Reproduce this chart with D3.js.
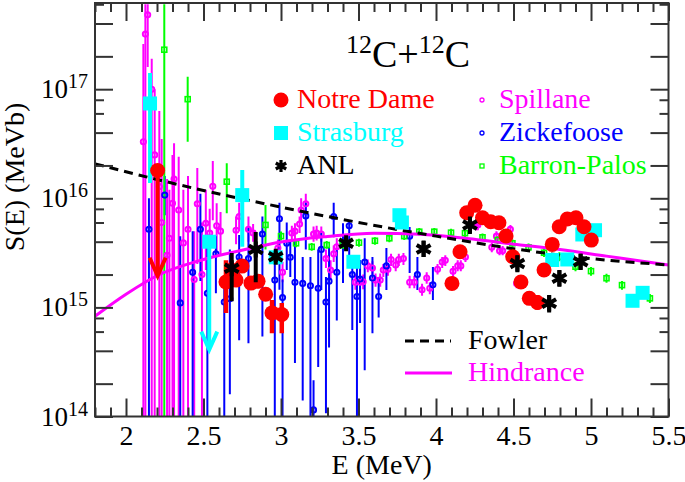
<!DOCTYPE html>
<html><head><meta charset="utf-8">
<script src="https://cdn.jsdelivr.net/npm/d3@7"></script>
<style>
html,body{margin:0;padding:0;background:#fff;}
svg{display:block;}
svg text{font-family:"Liberation Serif","Times New Roman",Times,serif !important;}
</style></head><body>
<svg id="chart" width="685" height="482"></svg>
<script>
// ---------- data: [E (MeV), S (MeV b), error low, error high] ----------
const xTickValues = [2, 2.5, 3, 3.5, 4, 4.5, 5, 5.5];
const yDecadeExponents = [14, 15, 16, 17];

const notreDame = [
  [2.645,1.71e15,8.9e14,2.7e15],[2.68,2.2e15,1.9e15,2.6e15],[2.71,1.78e15,1.55e15,2.05e15],
  [2.748,2.39e15,2.1e15,2.7e15],[2.806,1.67e15,1.45e15,1.9e15],[2.852,1.74e15,1.5e15,2.0e15],
  [2.901,1.32e15,1.15e15,1.5e15],[2.942,8.9e14,5.8e14,1.17e15],[3.005,8.6e14,5.8e14,1.1e15],
  [4.103,1.66e15,1.5e15,1.85e15],[4.155,3.24e15,2.95e15,3.55e15],[4.198,7.38e15,6.8e15,8e15],
  [4.252,8.63e15,8e15,9.3e15],[4.30,6.64e15,6.1e15,7.2e15],[4.353,6.1e15,5.6e15,6.6e15],
  [4.406,5.97e15,5.5e15,6.5e15],[4.452,4.51e15,4.1e15,4.9e15],[4.495,2.91e15,2.65e15,3.2e15],
  [4.548,1.71e15,1.5e15,1.95e15],[4.602,1.21e15,1.05e15,1.4e15],[4.654,1.11e15,0.95e15,1.3e15],
  [4.697,2.2e15,2.0e15,2.4e15],[4.75,3.78e15,3.5e15,4.1e15],[4.795,5.49e15,5.1e15,5.9e15],
  [4.847,6.46e15,6e15,7e15],[4.903,6.64e15,6.1e15,7.2e15],[4.955,5.49e15,5.1e15,5.9e15],
  [5.002,4.14e15,3.8e15,4.5e15]
];
const notreDameLimits = [[2.204, 1.8e16, 1.95e15]];   // [E, from, arrow tip]

const strasburg = [
  [2.155,7.4e16,1.38e16,1.41e17],[2.75,1.07e16,3.6e15,1.82e16],[2.966,2.88e15,2.6e15,3.2e15],
  [3.467,2.62e15,2.35e15,2.9e15],[3.764,7.0e15,6.3e15,7.8e15],[3.78,6.0e15,5.4e15,6.7e15],
  [4.75,2.72e15,2.45e15,3.0e15],[4.847,2.75e15,2.5e15,3.05e15],[4.944,4.66e15,4.2e15,5.1e15],
  [5.026,5.1e15,4.6e15,5.6e15],[5.268,1.15e15,1.04e15,1.27e15],[5.333,1.36e15,1.23e15,1.5e15]
];
const strasburgLimits = [[2.537, 4.0e15, 4.1e14]];

const anl = [
  [2.682,2.28e15,1.14e15,3.16e15],[2.837,3.4e15,1.7e15,4.9e15],[2.966,2.91e15,2.6e15,3.25e15],
  [3.42,3.87e15,3.4e15,4.4e15],[3.92,3.43e15,2.9e15,4.1e15],[4.219,5.69e15,4.7e15,6.8e15],
  [4.525,2.53e15,2.1e15,3.0e15],[4.73,1.09e15,0.9e15,1.3e15],[4.796,1.85e15,1.55e15,2.2e15],
  [4.933,2.62e15,2.2e15,3.1e15]
];

const spillane = [
  [2.112,3.3e16,1e14,2.6e17],[2.125,3.2e17,1e14,6e17],[2.14,4.8e17,1.6e17,6e17],
  [2.166,1.0e17,1e14,1.9e17],[2.185,2.5e16,1e14,1.0e17],[2.215,1.28e16,1e14,6.3e16],
  [2.23,6e15,1e14,3.5e16],[2.265,3.0e15,1e14,1.5e16],[2.28,4.3e15,1e14,1.2e16],
  [2.30,9e15,1e14,2.5e16],[2.31,1.5e16,1e14,3.2e16],[2.34,7.8e15,1e14,2.4e16],
  [2.37,3.9e15,1e14,1.2e16],[2.40,5.2e15,1e14,1.6e16],[2.44,1.8e15,1e14,5e15],
  [2.46,8.9e15,2.5e15,1.9e16],[2.49,2.0e15,1e14,6e15],[2.515,5.9e15,2.2e15,1.2e16],
  [2.54,4.8e15,3e15,8e15],[2.56,1.29e16,6.3e15,2.2e16],[2.585,5.6e15,3.3e15,9e15],
  [2.61,5.0e15,3e15,7.5e15],[2.71,5.1e15,3.8e15,6.8e15],[2.73,6.8e15,5e15,9.1e15],
  [2.79,5.2e15,4e15,6.8e15],[2.82,4.8e15,4e15,5.8e15],[2.98,3.5e15,2.9e15,4.2e15],
  [3.01,2.1e15,1.7e15,2.6e15],[3.07,4.8e15,4e15,5.6e15],[3.09,5.0e15,4.2e15,5.9e15],
  [3.12,5.8e15,4.8e15,6.8e15],[3.13,7.8e15,6e15,1.0e16],[3.16,8.9e15,7e15,1.1e16],
  [3.21,4.7e15,4e15,5.5e15],[3.23,4.8e15,4.1e15,5.6e15],[3.26,4.7e15,4e15,5.5e15],
  [3.29,2.8e15,2.3e15,3.4e15],[3.32,2.2e15,1.8e15,2.7e15],[3.34,3.1e15,2.6e15,3.7e15],
  [3.36,3.6e15,3e15,4.3e15],[3.48,1.7e15,1.45e15,2.0e15],[3.51,1.7e15,1.45e15,2.0e15],
  [3.53,1.72e15,1.47e15,2.0e15],[3.56,2.4e15,2.1e15,2.75e15],[3.59,2.3e15,2.0e15,2.65e15],
  [3.61,1.78e15,1.55e15,2.05e15],[3.64,1.78e15,1.55e15,2.05e15],[3.66,2.2e15,1.9e15,2.5e15],
  [3.69,2.24e15,1.95e15,2.55e15],[3.71,2.75e15,2.4e15,3.1e15],[3.74,2.45e15,2.15e15,2.8e15],
  [3.76,2.75e15,2.4e15,3.1e15],[3.79,2.8e15,2.45e15,3.15e15],[3.83,1.7e15,1.5e15,1.95e15],
  [3.86,1.7e15,1.5e15,1.95e15],[3.91,1.45e15,1.28e15,1.65e15],[3.94,1.86e15,1.65e15,2.1e15],
  [3.96,1.5e15,1.32e15,1.7e15],[4.01,2.24e15,2.0e15,2.5e15],[4.04,2.6e15,2.3e15,2.9e15],
  [4.06,2.7e15,2.4e15,3.0e15],[4.11,2.14e15,1.9e15,2.4e15],[4.14,2.4e15,2.15e15,2.7e15],
  [4.16,2.4e15,2.15e15,2.7e15],[4.19,2.9e15,2.6e15,3.2e15],[4.26,5.7e15,5.1e15,6.3e15],
  [4.27,5.7e15,5.1e15,6.3e15],[4.36,3.55e15,3.2e15,3.9e15],[4.39,4.5e15,4.05e15,5e15],
  [4.41,3.3e15,3.0e15,3.65e15],[4.43,3.3e15,3.0e15,3.65e15],[4.48,5.2e15,4.7e15,5.7e15],
  [4.52,1.66e15,1.5e15,1.85e15]
];

const zickefoose = [
  [2.148,5.2e15,1e14,1.0e16],[2.25,1.07e16,7e15,1.6e16],[2.35,1.1e15,1e14,4.5e15],
  [2.43,2.1e15,1e14,5.0e15],[2.48,5.2e15,1.75e15,1.1e16],[2.525,1.35e15,1e14,3.5e15],
  [2.58,3.1e15,1.35e15,4.5e15],[2.634,1.12e15,1e14,1.9e15],[2.67,1.2e15,1.6e14,3.4e15],
  [2.73,2.9e15,5e14,4.6e15],[2.79,2.8e15,4.7e14,5.4e15],[2.88,4.7e15,5.4e14,6.8e15],
  [2.96,1.78e15,1e14,3.1e15],[2.99,6.5e15,1.45e15,9.1e15],[3.01,1.23e15,1e14,1.8e15],
  [3.037,3.87e15,2.2e15,6e15],[3.06,2.88e15,1.9e15,4.1e15],[3.09,1.7e15,3.1e14,4.1e15],
  [3.14,1.66e15,1.4e14,2.9e15],[3.16,6.9e15,3.4e15,9.1e15],[3.19,1.58e15,1e14,2.9e15],
  [3.21,1.15e14,1e14,2.15e14],[3.24,1.5e15,2.84e14,3.4e15],[3.26,3.4e15,1.44e15,4.8e15],
  [3.29,1.12e15,1.07e14,1.9e15],[3.31,1.74e15,4.3e14,3.57e15],[3.34,6.8e15,4.4e15,9.1e15],
  [3.36,2.1e15,7.6e14,3.36e15],[3.40,3.9e15,1.67e15,5.9e15],[3.44,5.6e15,2.9e15,6.3e15],
  [3.46,2.0e15,6.2e14,2.9e15],[3.49,1.26e15,1e14,2.55e15],[3.51,1.82e15,7.2e14,2.72e15],
  [3.54,2.6e15,2.66e14,4.3e15],[3.59,1.86e15,5.8e14,2.9e15],[3.63,1.26e15,8.1e14,1.9e15],
  [3.68,2.4e15,1.44e15,3.5e15],[3.83,4.5e15,2.07e15,5.46e15],[3.88,2.0e15,1.44e15,2.9e15],
  [3.98,1.61e15,1.17e15,2.34e15]
];

const barronPalos = [
  [2.247,2.3e17,1e14,6e17],[2.398,8.1e16,3.3e16,1.3e17],[2.65,1.42e16,7.3e15,2.1e16],
  [2.90,5.7e15,3.4e15,8.7e15],[3.0,4.5e15,4.1e15,4.95e15],[3.097,3.87e15,3.55e15,4.2e15],
  [3.198,3.59e15,3.3e15,3.9e15],[3.295,3.73e15,3.45e15,4.05e15],[3.398,3.73e15,3.45e15,4.05e15],
  [3.503,3.92e15,3.6e15,4.25e15],[3.606,4.08e15,3.75e15,4.4e15],[3.699,4.3e15,3.95e15,4.65e15],
  [3.795,4.5e15,4.15e15,4.9e15],[3.892,4.94e15,4.55e15,5.35e15],[3.989,4.94e15,4.55e15,5.35e15],
  [4.097,4.84e15,4.45e15,5.25e15],[4.187,4.79e15,4.4e15,5.2e15],[4.30,4.39e15,4.05e15,4.75e15],
  [4.398,4.14e15,3.8e15,4.5e15],[4.493,3.87e15,3.55e15,4.2e15],[4.597,3.55e15,3.25e15,3.85e15],
  [4.697,3.17e15,2.9e15,3.45e15],[4.796,2.91e15,2.65e15,3.2e15],[4.90,2.36e15,2.15e15,2.6e15],
  [5.0,2.15e15,1.95e15,2.35e15],[5.10,1.85e15,1.68e15,2.03e15],[5.20,1.6e15,1.45e15,1.75e15],
  [5.38,1.21e15,1.1e15,1.33e15]
];

const fowlerE = [1.8, 2.0, 2.5, 3.0, 3.5, 4.0, 4.5, 5.0, 5.5];
const fowlerS = [2.07e16, 1.75e16, 1.18e16, 8.3e15, 6.0e15, 4.5e15, 3.45e15, 2.8e15, 2.45e15];
const hindranceE = [1.8, 2.0, 2.2, 2.5, 2.8, 3.0, 3.3, 3.6, 3.9, 4.2, 4.5, 4.8, 5.1, 5.5];
const hindranceS = [8.3e14, 1.32e15, 1.95e15, 2.75e15, 3.47e15, 3.98e15, 4.47e15, 4.79e15, 4.68e15, 4.27e15, 3.8e15, 3.39e15, 2.95e15, 2.45e15];

// ---------- layout ----------
const FONT = "Liberation Serif, Times New Roman, serif";
const svg = d3.select("#chart").attr("font-family", FONT);
const L = 95, R = 668.5, T = 3, B = 416.5;
const x = d3.scaleLinear().domain([1.8, 5.5]).range([L, R]);
const y = d3.scaleLog().domain([1e14, Math.pow(10, 17.79)]).range([B, T]);
const axisColor = "#333";

svg.append("defs").append("clipPath").attr("id", "clip")
  .append("rect").attr("x", L).attr("y", T).attr("width", R - L).attr("height", B - T);
const plot = svg.append("g").attr("clip-path", "url(#clip)");

// ---------- axes ----------
const xMinor = d3.range(18, 56).map(v => v / 10).filter(v => Math.abs(v * 2 - Math.round(v * 2)) > 1e-6);
const yLong = [], yShort = [];
for (let e = 14; e <= 17; e++) {
  [1, 2, 4].forEach(k => { const v = k * Math.pow(10, e); if (v <= y.domain()[1]) yLong.push(v); });
  [6, 8].forEach(k => { const v = k * Math.pow(10, e); if (v <= y.domain()[1]) yShort.push(v); });
}
function styleAxis(g) {
  g.attr("font-family", FONT);
  g.select(".domain").remove();
  g.selectAll(".tick line").attr("stroke", axisColor).attr("stroke-width", 2);
}
svg.append("g").attr("transform", `translate(0,${B})`)
  .call(d3.axisBottom(x).tickValues(xTickValues).tickSizeInner(-18).tickSizeOuter(0).tickPadding(9).tickFormat(d3.format("")))
  .call(styleAxis)
  .call(g => g.selectAll(".tick text").attr("font-size", 28).attr("fill", "#000").attr("font-family", FONT));
svg.append("g").attr("transform", `translate(0,${B})`)
  .call(d3.axisBottom(x).tickValues(xMinor).tickSizeInner(-9).tickSizeOuter(0).tickFormat(""))
  .call(styleAxis);
svg.append("g").attr("transform", `translate(0,${T})`)
  .call(d3.axisTop(x).tickValues(xTickValues).tickSizeInner(-18).tickSizeOuter(0).tickFormat(""))
  .call(styleAxis);
svg.append("g").attr("transform", `translate(0,${T})`)
  .call(d3.axisTop(x).tickValues(xMinor).tickSizeInner(-9).tickSizeOuter(0).tickFormat(""))
  .call(styleAxis);
svg.append("g").attr("transform", `translate(${L},0)`)
  .call(d3.axisLeft(y).tickValues(yLong).tickSizeInner(-18).tickSizeOuter(0).tickFormat(""))
  .call(styleAxis);
svg.append("g").attr("transform", `translate(${L},0)`)
  .call(d3.axisLeft(y).tickValues(yShort).tickSizeInner(-9).tickSizeOuter(0).tickFormat(""))
  .call(styleAxis);
svg.append("g").attr("transform", `translate(${R},0)`)
  .call(d3.axisRight(y).tickValues(yLong).tickSizeInner(-18).tickSizeOuter(0).tickFormat(""))
  .call(styleAxis);
svg.append("g").attr("transform", `translate(${R},0)`)
  .call(d3.axisRight(y).tickValues(yShort).tickSizeInner(-9).tickSizeOuter(0).tickFormat(""))
  .call(styleAxis);
svg.append("rect").attr("x", L).attr("y", T).attr("width", R - L).attr("height", B - T)
  .attr("fill", "none").attr("stroke", axisColor).attr("stroke-width", 2);

// y tick labels 10^n
yDecadeExponents.forEach(e => {
  const t = svg.append("text").attr("x", 88).attr("y", y(Math.pow(10, e)) + 9)
    .attr("text-anchor", "end").attr("font-size", 27).attr("fill", "#000");
  t.append("tspan").text("10");
  t.append("tspan").attr("dy", -10).attr("font-size", 20).text(String(e));
});

// axis titles
svg.append("text").attr("x", (L + R) / 2).attr("y", 474).attr("text-anchor", "middle")
  .attr("font-size", 28).text("E (MeV)");
svg.append("text").attr("transform", `translate(24,177) rotate(-90)`).attr("text-anchor", "middle")
  .attr("font-size", 28).text("S(E) (MeVb)");

// ---------- helpers ----------
function errorBars(data, color, width) {
  plot.append("g").selectAll("line").data(data).join("line")
    .attr("x1", d => x(d[0])).attr("x2", d => x(d[0]))
    .attr("y1", d => y(d[2])).attr("y2", d => y(d[3]))
    .attr("stroke", color).attr("stroke-width", width);
}
function openCircles(data, color) {
  plot.append("g").selectAll("circle").data(data).join("circle")
    .attr("cx", d => x(d[0])).attr("cy", d => y(d[1])).attr("r", 2.6)
    .attr("fill", "none").attr("stroke", color).attr("stroke-width", 1.9);
}
function limitArrows(data, color) {
  const g = plot.append("g").attr("stroke", color).attr("stroke-width", 4).attr("fill", "none");
  data.forEach(d => {
    const xx = x(d[0]), y0 = y(d[1]), y1 = y(d[2]);
    g.append("line").attr("x1", xx).attr("x2", xx).attr("y1", y0).attr("y2", y1 - 2);
    g.append("path").attr("d", `M${xx - 8},${y1 - 18}L${xx},${y1}L${xx + 8},${y1 - 18}`)
      .attr("stroke-linejoin", "miter");
  });
}
const asteriskPath = (r) => {
  const t = r / 2, u = t * Math.sqrt(3);
  return `M0,${r}L0,${-r}M${-u},${-t}L${u},${t}M${-u},${t}L${u},${-t}`;
};

// ---------- small-symbol data sets ----------
errorBars(spillane, "#ff00ff", 2);
errorBars(zickefoose, "#0000ff", 2);
errorBars(barronPalos, "#00ff00", 2);
openCircles(spillane, "#ff00ff");
openCircles(zickefoose, "#0000ff");
plot.append("g").selectAll("rect").data(barronPalos).join("rect")
  .attr("x", d => x(d[0]) - 2.5).attr("y", d => y(d[1]) - 2.5).attr("width", 5).attr("height", 5)
  .attr("fill", "none").attr("stroke", "#00ff00").attr("stroke-width", 1.6);

// ---------- curves ----------
const fowler = fowlerE.map((e, i) => [e, fowlerS[i]]);
const hindrance = hindranceE.map((e, i) => [e, hindranceS[i]]);
const line = d3.line().x(d => x(d[0])).y(d => y(d[1])).curve(d3.curveMonotoneX);
plot.append("path").datum(hindrance).attr("d", line).attr("fill", "none")
  .attr("stroke", "#ff00ff").attr("stroke-width", 3);
plot.append("path").datum(fowler).attr("d", line).attr("fill", "none")
  .attr("stroke", "#000").attr("stroke-width", 3).attr("stroke-dasharray", "9,6");

// ---------- big-symbol data sets ----------
errorBars(strasburg, "#00ffff", 4);
limitArrows(strasburgLimits, "#00ffff");
plot.append("g").selectAll("rect").data(strasburg.concat(strasburgLimits.map(d => [d[0], d[1]]))).join("rect")
  .attr("x", d => x(d[0]) - 7).attr("y", d => y(d[1]) - 7).attr("width", 14).attr("height", 14)
  .attr("fill", "#00ffff");

errorBars(notreDame, "#ff0000", 4.5);
limitArrows(notreDameLimits, "#ff0000");
plot.append("g").selectAll("circle").data(notreDame.concat(notreDameLimits.map(d => [d[0], d[1]]))).join("circle")
  .attr("cx", d => x(d[0])).attr("cy", d => y(d[1])).attr("r", 7.5).attr("fill", "#ff0000");

errorBars(anl, "#000", 4);
plot.append("g").selectAll("path").data(anl).join("path")
  .attr("transform", d => `translate(${x(d[0])},${y(d[1])})`)
  .attr("d", asteriskPath(8)).attr("stroke", "#000").attr("stroke-width", 4).attr("fill", "none");

// ---------- title ----------
const title = svg.append("text").attr("x", 346).attr("y", 67).attr("font-size", 38).attr("fill", "#000");
title.append("tspan").attr("font-size", 26).attr("dy", -14).text("12");
title.append("tspan").attr("dy", 14).text("C+");
title.append("tspan").attr("font-size", 26).attr("dy", -14).text("12");
title.append("tspan").attr("dy", 14).text("C");

// ---------- legend ----------
const legendLeft = [
  {name: "Notre Dame", color: "#ff0000", sym: "circle"},
  {name: "Strasburg", color: "#00ffff", sym: "square"},
  {name: "ANL", color: "#000", sym: "asterisk"}
];
const legendRight = [
  {name: "Spillane", color: "#ff00ff", sym: "smallcircle"},
  {name: "Zickefoose", color: "#0000ff", sym: "smallcircle"},
  {name: "Barron-Palos", color: "#00ff00", sym: "smallsquare"}
];
function drawLegend(items, mx, tx, y0) {
  items.forEach((it, i) => {
    const cy = y0 + i * 33;
    const g = svg.append("g");
    if (it.sym === "circle") g.append("circle").attr("cx", mx).attr("cy", cy).attr("r", 7.5).attr("fill", it.color);
    if (it.sym === "square") g.append("rect").attr("x", mx - 7).attr("y", cy - 7).attr("width", 14).attr("height", 14).attr("fill", it.color);
    if (it.sym === "asterisk") g.append("path").attr("transform", `translate(${mx},${cy})`).attr("d", asteriskPath(6))
      .attr("stroke", "#000").attr("stroke-width", 3.2);
    if (it.sym === "smallcircle") g.append("circle").attr("cx", mx).attr("cy", cy).attr("r", 2).attr("fill", "none")
      .attr("stroke", it.color).attr("stroke-width", 1.3);
    if (it.sym === "smallsquare") g.append("rect").attr("x", mx - 2).attr("y", cy - 2).attr("width", 4).attr("height", 4)
      .attr("fill", "none").attr("stroke", it.color).attr("stroke-width", 1.3);
    g.append("text").attr("x", tx).attr("y", cy + 8).attr("font-size", 28).attr("fill", it.color)
      .attr("font-family", FONT).text(it.name);
  });
}
drawLegend(legendLeft, 281, 297, 100);
drawLegend(legendRight, 482, 499, 100);

svg.append("line").attr("x1", 405).attr("x2", 451).attr("y1", 341).attr("y2", 341)
  .attr("stroke", "#000").attr("stroke-width", 3).attr("stroke-dasharray", "9,6");
svg.append("text").attr("x", 468).attr("y", 349).attr("font-size", 28).text("Fowler");
svg.append("line").attr("x1", 405).attr("x2", 452).attr("y1", 373).attr("y2", 373)
  .attr("stroke", "#ff00ff").attr("stroke-width", 3);
svg.append("text").attr("x", 468).attr("y", 381).attr("font-size", 28).attr("fill", "#ff00ff").text("Hindrance");
</script>
</body></html>
